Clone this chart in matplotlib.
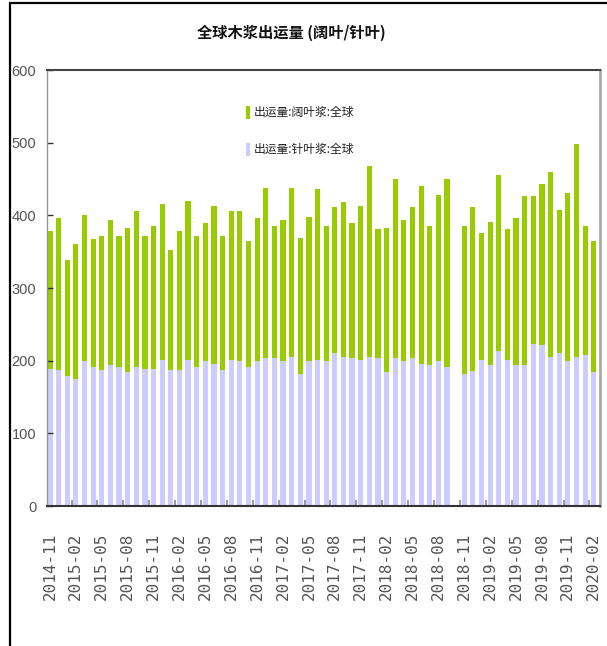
import numpy as np
import pandas as pd
import matplotlib
matplotlib.use("Agg")
import matplotlib.pyplot as plt
from matplotlib.patches import Rectangle
from matplotlib.ticker import FixedLocator

# ---------------- data ----------------
months = pd.date_range("2014-11-01", periods=64, freq="MS").strftime("%Y-%m").tolist()

softwood = [188, 187, 179, 175, 199, 191, 187, 194, 191, 184, 191, 189,
            189, 201, 187, 187, 201, 191, 199, 196, 187, 201, 199, 191,
            199, 203, 203, 199, 205, 181, 199, 201, 199, 211, 205, 203,
            201, 205, 203, 184, 203, 199, 203, 196, 194, 199, 191, np.nan,
            181, 186, 201, 194, 213, 201, 194, 194, 223, 221, 205, 211,
            199, 205, 208, 184]

hardwood = [191, 209, 160, 186, 202, 176, 184, 199, 180, 199, 215, 182,
            197, 215, 165, 192, 219, 180, 190, 217, 184, 205, 207, 173,
            197, 235, 183, 194, 233, 188, 199, 235, 187, 200, 213, 186,
            212, 263, 178, 199, 247, 194, 208, 244, 192, 229, 259, np.nan,
            205, 225, 175, 197, 242, 180, 202, 232, 203, 222, 255, 197,
            232, 293, 178, 180]

title = "全球木浆出运量 (阔叶/针叶)"
label_hard = "出运量:阔叶浆:全球"
label_soft = "出运量:针叶浆:全球"
yticks = [0, 100, 200, 300, 400, 500, 600]

# ---------------- plot ----------------
W, H = 607, 646
fig = plt.figure(figsize=(W / 100, H / 100), dpi=100)
fig.patch.set_facecolor("white")

ax = fig.add_axes([47.3 / W, (H - 506) / H, (599.7 - 47.3) / W, (506 - 70) / H])

x = np.arange(len(months))
soft = np.array(softwood, dtype=float)
hard = np.array(hardwood, dtype=float)

green = "#99CC00"
blue = "#CCCCFF"
bw = 0.6
b1 = ax.bar(x, soft, width=bw, color=blue, edgecolor="none", label=label_soft)
b2 = ax.bar(x, hard, width=bw, bottom=soft, color=green, edgecolor="none", label=label_hard)

ax.set_xlim(-0.31, 63.69)
ax.set_ylim(0, 600)

# y axis
ax.set_yticks(yticks)
ax.set_yticklabels([str(v) for v in yticks], family=["Liberation Sans", "DejaVu Sans"],
                   fontsize=10.5, color="#555555")
ax.tick_params(axis="y", direction="in", length=4, width=1, color="#333333", pad=8)

# x axis
major = x[::3]
ax.set_xticks(major)
ax.set_xticklabels([months[i] for i in major], rotation=90, family=["DejaVu Sans Mono"],
                   fontsize=11.5, color="#555555", va="top", ha="center")
ax.tick_params(axis="x", which="major", length=0, pad=19)
ax.xaxis.set_minor_locator(FixedLocator(np.arange(2.5, 64, 3)))
ax.tick_params(axis="x", which="minor", direction="in", length=4, width=1.2, color="#888888")

# spines
ax.spines["top"].set_color("#444444")
ax.spines["top"].set_linewidth(1.5)
ax.spines["right"].set_color("#aaaaaa")
ax.spines["right"].set_linewidth(2)
ax.spines["left"].set_color("#999999")
ax.spines["left"].set_linewidth(1)
ax.spines["bottom"].set_color("#333333")
ax.spines["bottom"].set_linewidth(1.5)

# title
fig.text(291 / W, 1 - 33 / H, title, ha="center", va="center",
         family=["Noto Sans CJK SC", "DejaVu Sans"], fontsize=11, fontweight="bold",
         color="#111111")

# legend
leg = ax.legend([b2, b1], [label_hard, label_soft], loc="upper left",
                bbox_to_anchor=(240 / W, 1 - 100 / H), bbox_transform=fig.transFigure,
                frameon=False, handlelength=0.35, handleheight=1.3, handletextpad=0.3,
                labelspacing=2.0, borderpad=0, prop={"family": ["Noto Sans CJK SC", "DejaVu Sans"], "size": 8.5})
for t in leg.get_texts():
    t.set_color("#222222")

# outer border
fig.add_artist(Rectangle((10 / W, -0.2), 1.5, 1.2 - 3 / H, transform=fig.transFigure,
                         fill=False, edgecolor="black", linewidth=1.6))

fig.savefig("out.png", dpi=100)
